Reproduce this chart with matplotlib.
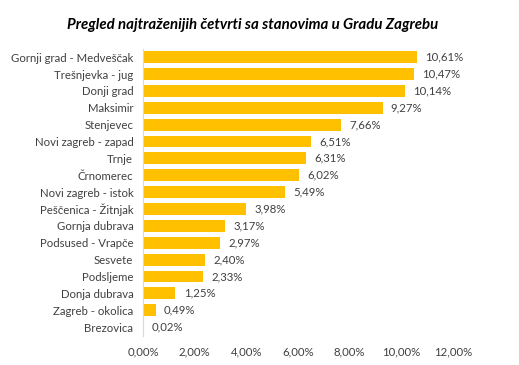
import matplotlib.pyplot as plt
from matplotlib.ticker import FuncFormatter

kvartovi = ["Gornji grad - Medveščak", "Trešnjevka - jug", "Donji grad", "Maksimir",
            "Stenjevec", "Novi zagreb - zapad", "Trnje", "Črnomerec", "Novi zagreb - istok",
            "Peščenica - Žitnjak", "Gornja dubrava", "Podsused - Vrapče", "Sesvete",
            "Podsljeme", "Donja dubrava", "Zagreb - okolica", "Brezovica"]
udjeli = [10.61, 10.47, 10.14, 9.27, 7.66, 6.51, 6.31, 6.02, 5.49,
          3.98, 3.17, 2.97, 2.40, 2.33, 1.25, 0.49, 0.02]
x_ticks = [0, 2, 4, 6, 8, 10, 12]

plt.rcParams['font.family'] = ['Lato', 'DejaVu Sans']

def pct(v):
    return f"{v:.2f}".replace(".", ",") + "%"

fig = plt.figure(figsize=(5.19, 3.65), dpi=100)
ax = fig.add_axes([0.2755, 0.0806, 0.5975, 0.786])

pos = range(len(kvartovi))
ax.barh(pos, udjeli, height=0.7, color="#FFC000")
for i, v in enumerate(udjeli):
    ax.annotate(pct(v), (v, i), xytext=(6, 0), textcoords="offset points",
                va="center", ha="left", fontsize=8.2, color="#404040")

ax.set_yticks(list(pos))
ax.set_yticklabels(kvartovi, fontsize=8.2, color="#404040")
ax.set_ylim(len(kvartovi) - 0.5, -0.5)
ax.set_xlim(0, 12)
ax.set_xticks(x_ticks)
ax.xaxis.set_major_formatter(FuncFormatter(lambda v, p: pct(v)))
ax.tick_params(axis="x", labelsize=8.2, labelcolor="#404040", length=0, pad=8)
ax.tick_params(axis="y", length=0, pad=7)

for s in ["top", "right", "bottom"]:
    ax.spines[s].set_visible(False)
ax.spines["left"].set_color("#D9D9D9")

fig.suptitle("Pregled najtraženijih četvrti sa stanovima u Gradu Zagrebu",
             x=0.487, y=0.95, fontsize=10.8, fontweight="bold", fontstyle="italic")

fig.savefig("out.png", dpi=100)
